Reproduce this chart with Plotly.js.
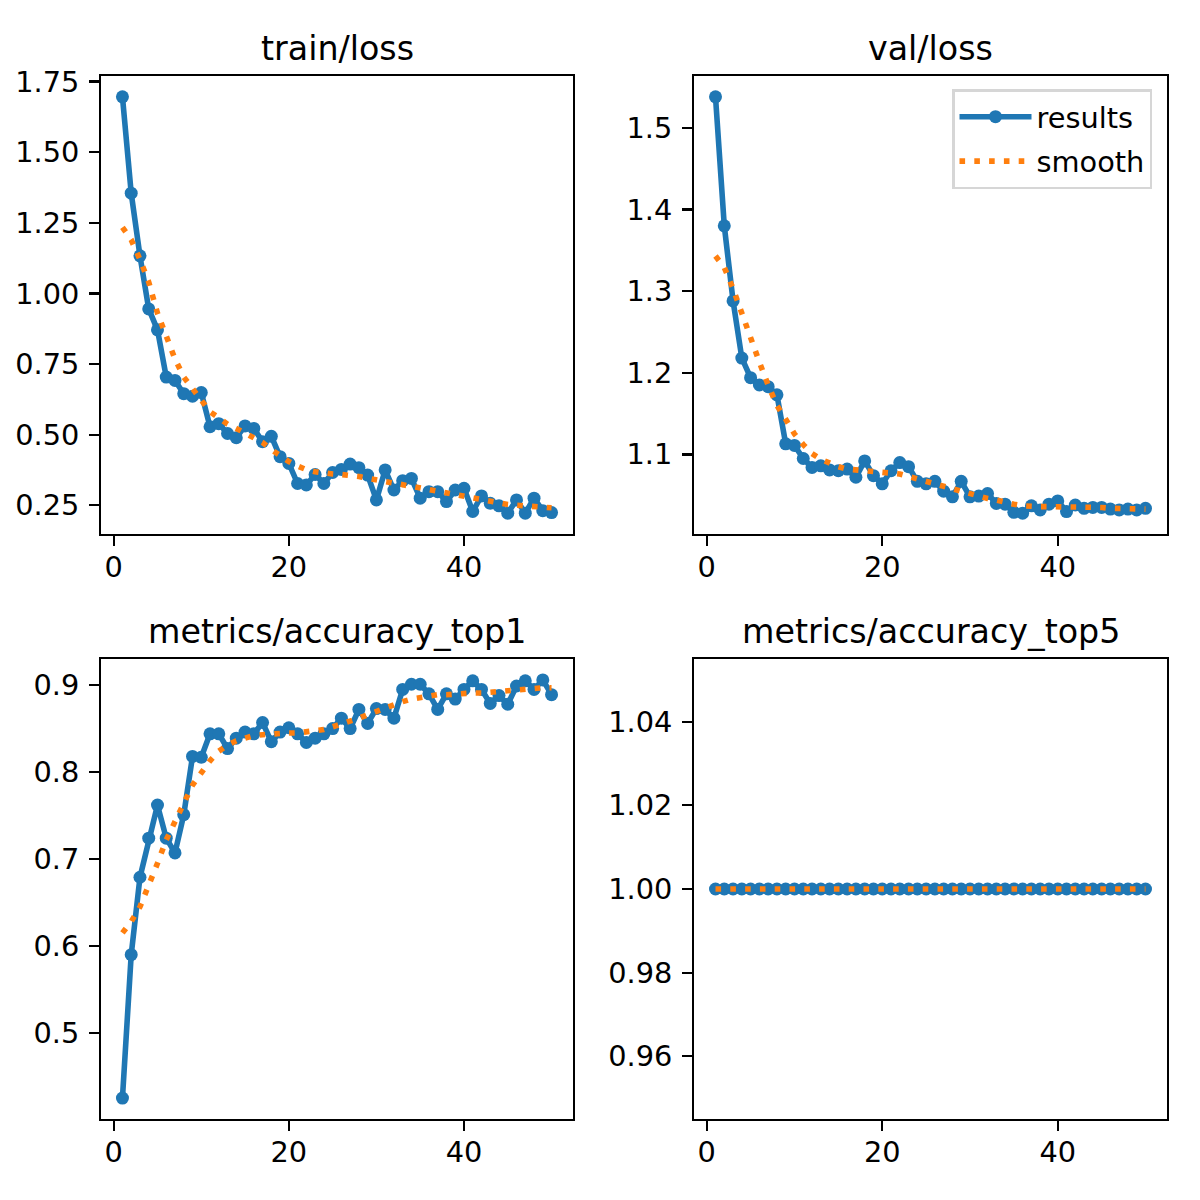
<!DOCTYPE html>
<html>
<head>
<meta charset="utf-8">
<script src="https://cdn.plot.ly/plotly-3.0.1.min.js"></script>
<style>
  html, body { margin: 0; padding: 0; background: #fff; }
  #plot { width: 1200px; height: 1200px; }
</style>
</head>
<body>
<div id="plot"></div>
<script>
// epochs and values
const epochs = [1, 2, 3, 4, 5, 6, 7, 8, 9, 10, 11, 12, 13, 14, 15, 16, 17, 18, 19, 20,
    21, 22, 23, 24, 25, 26, 27, 28, 29, 30, 31, 32, 33, 34, 35, 36, 37, 38, 39, 40,
    41, 42, 43, 44, 45, 46, 47, 48, 49, 50];

const trainLoss = [1.696, 1.355, 1.133, 0.945, 0.871, 0.704, 0.692, 0.645, 0.636, 0.649,
    0.528, 0.539, 0.504, 0.489, 0.531, 0.522, 0.475, 0.494, 0.422, 0.398,
    0.327, 0.322, 0.359, 0.327, 0.366, 0.377, 0.396, 0.383, 0.357, 0.269,
    0.375, 0.304, 0.337, 0.345, 0.275, 0.298, 0.298, 0.263, 0.304, 0.310,
    0.228, 0.283, 0.257, 0.248, 0.222, 0.269, 0.222, 0.275, 0.231, 0.224];
const trainSmooth = [1.234, 1.190, 1.120, 1.040, 0.930, 0.845, 0.768, 0.704, 0.663, 0.622,
    0.581, 0.560, 0.537, 0.522, 0.507, 0.488, 0.472, 0.447, 0.424, 0.405,
    0.389, 0.376, 0.369, 0.363, 0.361, 0.359, 0.357, 0.352, 0.346, 0.340,
    0.334, 0.328, 0.321, 0.314, 0.308, 0.302, 0.297, 0.292, 0.285, 0.279,
    0.273, 0.267, 0.262, 0.257, 0.253, 0.250, 0.248, 0.245, 0.243, 0.241];

const valLoss = [1.538, 1.380, 1.288, 1.218, 1.194, 1.185, 1.183, 1.173, 1.113, 1.111,
    1.095, 1.084, 1.086, 1.081, 1.080, 1.082, 1.072, 1.092, 1.074, 1.064,
    1.080, 1.090, 1.085, 1.067, 1.064, 1.067, 1.055, 1.048, 1.067, 1.048,
    1.049, 1.052, 1.040, 1.039, 1.029, 1.028, 1.037, 1.032, 1.039, 1.043,
    1.030, 1.038, 1.034, 1.035, 1.035, 1.033, 1.032, 1.033, 1.032, 1.034];
const valSmooth = [1.343, 1.329, 1.303, 1.272, 1.240, 1.213, 1.185, 1.160, 1.143, 1.125,
    1.112, 1.101, 1.094, 1.089, 1.085, 1.082, 1.081, 1.079, 1.078, 1.077,
    1.076, 1.076, 1.073, 1.070, 1.067, 1.063, 1.060, 1.057, 1.054, 1.051,
    1.049, 1.046, 1.044, 1.041, 1.039, 1.037, 1.036, 1.036, 1.036, 1.036,
    1.036, 1.036, 1.035, 1.035, 1.035, 1.034, 1.034, 1.034, 1.033, 1.033];

const top1 = [0.425, 0.590, 0.679, 0.724, 0.762, 0.724, 0.707, 0.751, 0.818, 0.817,
    0.844, 0.844, 0.827, 0.839, 0.846, 0.844, 0.857, 0.835, 0.846, 0.851,
    0.844, 0.834, 0.839, 0.844, 0.850, 0.862, 0.850, 0.872, 0.856, 0.873,
    0.872, 0.862, 0.895, 0.901, 0.901, 0.890, 0.872, 0.890, 0.884, 0.895,
    0.905, 0.895, 0.879, 0.888, 0.878, 0.899, 0.905, 0.895, 0.906, 0.889];
const top1Smooth = [0.615, 0.628, 0.645, 0.669, 0.695, 0.722, 0.744, 0.766, 0.785, 0.799,
    0.813, 0.824, 0.831, 0.836, 0.839, 0.842, 0.843, 0.844, 0.845, 0.845,
    0.845, 0.846, 0.847, 0.849, 0.852, 0.855, 0.859, 0.862, 0.866, 0.870,
    0.874, 0.878, 0.881, 0.884, 0.886, 0.888, 0.889, 0.889, 0.890, 0.890,
    0.891, 0.891, 0.892, 0.892, 0.893, 0.894, 0.895, 0.896, 0.897, 0.897];

const top5 = [1, 1, 1, 1, 1, 1, 1, 1, 1, 1, 1, 1, 1, 1, 1, 1, 1, 1, 1, 1, 1, 1, 1, 1, 1,
    1, 1, 1, 1, 1, 1, 1, 1, 1, 1, 1, 1, 1, 1, 1, 1, 1, 1, 1, 1, 1, 1, 1, 1, 1];
const top5Smooth = [1, 1, 1, 1, 1, 1, 1, 1, 1, 1, 1, 1, 1, 1, 1, 1, 1, 1, 1, 1, 1, 1, 1, 1, 1,
    1, 1, 1, 1, 1, 1, 1, 1, 1, 1, 1, 1, 1, 1, 1, 1, 1, 1, 1, 1, 1, 1, 1, 1, 1];

const titles = ['train/loss', 'val/loss', 'metrics/accuracy_top1', 'metrics/accuracy_top5'];
const xTicks = [0, 20, 40];

// px -> paper helpers (figure is 1200 x 1200, no margins)
const W = 1200, H = 1200;
const px = v => v / W;
const py = v => 1 - v / H;

const blue = '#1f77b4';
const orange = '#ff7f0e';
const font = 'DejaVu Sans, Verdana, sans-serif';
const tickSize = 28.8;

// matplotlib style autoscale: 5% margins on the data limits
function padRange(arrays) {
    let all = [].concat(...arrays);
    let lo = Math.min(...all), hi = Math.max(...all);
    let m = (hi - lo) * 0.05;
    return [lo - m, hi + m];
}

const panels = [
    { res: trainLoss, sm: trainSmooth, dom: [[101, 573], [76, 534]], dtick: 0.25, fmt: '.2f' },
    { res: valLoss, sm: valSmooth, dom: [[694, 1167], [76, 534]], dtick: 0.1, fmt: '.1f' },
    { res: top1, sm: top1Smooth, dom: [[101, 573], [659, 1119]], dtick: 0.1, fmt: '.1f' },
    { res: top5, sm: top5Smooth, dom: [[694, 1167], [659, 1119]], dtick: 0.02, fmt: '.2f', range: [0.945, 1.055] }
];

let traces = [];
let layout = {
    width: W,
    height: H,
    margin: { l: 0, r: 0, t: 0, b: 0 },
    paper_bgcolor: '#fff',
    plot_bgcolor: '#fff',
    font: { family: font, size: tickSize, color: '#000' },
    showlegend: true,
    legend: {
        x: px(1152), y: py(89), xanchor: 'right', yanchor: 'top',
        bgcolor: 'rgba(255,255,255,0.8)',
        bordercolor: '#d6d6d6', borderwidth: 2.5,
        font: { family: font, size: tickSize, color: '#000' },
        itemwidth: 72,
        traceorder: 'grouped', tracegroupgap: 4
    },
    annotations: []
};

panels.forEach((p, i) => {
    let n = i + 1;
    let xa = n === 1 ? 'x' : 'x' + n;
    let ya = n === 1 ? 'y' : 'y' + n;

    traces.push({
        x: epochs, y: p.res, xaxis: xa, yaxis: ya,
        mode: 'lines+markers', name: 'results',
        legendgroup: 'results', showlegend: n === 2,
        line: { color: blue, width: 5.6 },
        marker: { color: blue, size: 13 }
    });
    traces.push({
        x: epochs, y: p.sm, xaxis: xa, yaxis: ya,
        mode: 'lines', name: 'smooth',
        legendgroup: 'smooth', showlegend: n === 2,
        line: { color: orange, width: 5.6, dash: '5.6px,9.2px' }
    });

    let axisStyle = {
        showline: true, mirror: true, linecolor: '#000', linewidth: 2.2,
        ticks: 'outside', ticklen: 9.7, tickwidth: 2.2, tickcolor: '#000',
        showgrid: false, zeroline: false,
        tickfont: { family: font, size: tickSize, color: '#000' }
    };

    layout['xaxis' + (n === 1 ? '' : n)] = Object.assign({}, axisStyle, {
        domain: [px(p.dom[0][0]), px(p.dom[0][1])],
        anchor: ya,
        range: padRange([epochs]),
        tickmode: 'array', tickvals: xTicks,
        ticklabelstandoff: -3
    });
    layout['yaxis' + (n === 1 ? '' : n)] = Object.assign({}, axisStyle, {
        domain: [py(p.dom[1][1]), py(p.dom[1][0])],
        anchor: xa,
        range: p.range || padRange([p.res, p.sm]),
        dtick: p.dtick, tickformat: p.fmt,
        ticklabelstandoff: 4
    });

    layout.annotations.push({
        text: titles[i],
        xref: 'paper', yref: 'paper',
        x: px((p.dom[0][0] + p.dom[0][1]) / 2), y: py(p.dom[1][0]),
        xanchor: 'center', yanchor: 'bottom', yshift: 6,
        showarrow: false,
        font: { family: font, size: 33.3, color: '#000' }
    });
});

Plotly.newPlot('plot', traces, layout, { staticPlot: true });
</script>
</body>
</html>
